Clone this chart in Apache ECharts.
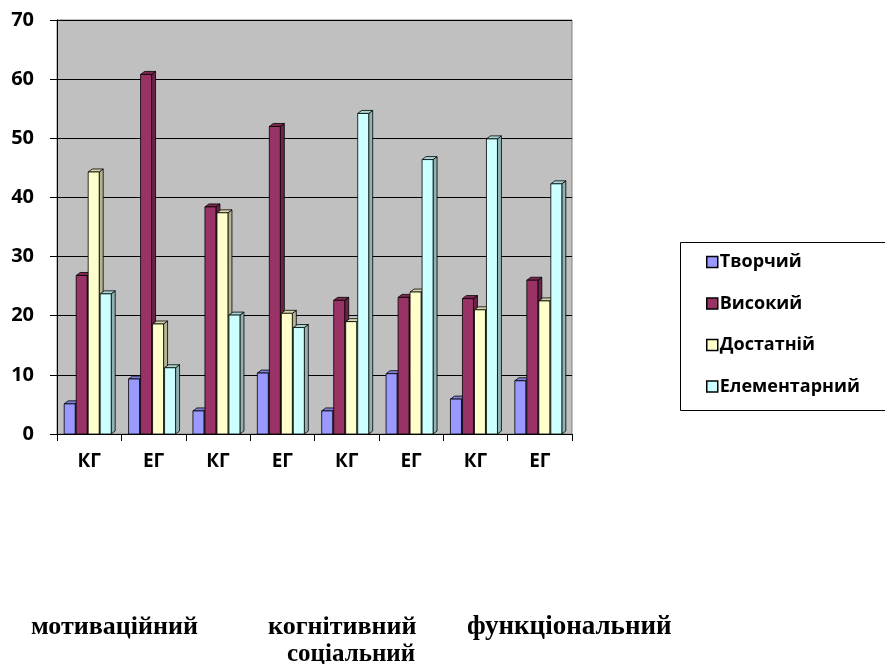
<!DOCTYPE html>
<html><head><meta charset="utf-8">
<script src="https://cdn.jsdelivr.net/npm/echarts@6/dist/echarts.min.js"></script>
<style>html,body{margin:0;padding:0;background:#fff}#c{width:885px;height:664px}</style>
</head><body><div id="c"></div>
<script>
const categories = ['КГ','ЕГ','КГ','ЕГ','КГ','ЕГ','КГ','ЕГ'];
const seriesNames = ['Творчий','Високий','Достатній','Елементарний'];
const tvorchyi     = [5.1, 9.3, 3.9, 10.3, 3.9, 10.2, 5.9, 9.0];
const vysokyi      = [26.8, 60.8, 38.4, 52.0, 22.6, 23.1, 22.9, 26.0];
const dostatnii    = [44.3, 18.6, 37.4, 20.4, 19.0, 24.0, 21.0, 22.5];
const elementarnyi = [23.7, 11.2, 20.1, 18.0, 54.2, 46.4, 49.9, 42.3];
const yTicks = [0,10,20,30,40,50,60,70];
const bottomLabels = ['мотиваційний','когнітивний','функціональний','соціальний'];

const values = [tvorchyi, vysokyi, dostatnii, elementarnyi];
const colors = ['#9999ff','#993366','#ffffcc','#ccffff'];
const sides  = ['#6b6bb3','#6b2447','#b3b38f','#8fb3b3'];
const tops   = ['#8080d6','#80294f','#d6d6aa','#aad6d6'];

function makeRender(si){
  return function(params, api){
    const cat = api.value(0), v = api.value(1);
    const base = api.coord([cat, 0]);
    const tp = api.coord([cat, v]);
    const bw = 12;
    const x0 = base[0] - 2*bw + si*bw - 1;
    const x1 = x0 + bw - 1;
    const yb = base[1], yt = tp[1];
    const dx = 4, dy = -3;
    const ls = {stroke:'#000', lineWidth:0.8};
    return {type:'group', children:[
      {type:'polygon', shape:{points:[[x1,yt],[x1+dx,yt+dy],[x1+dx,yb+dy],[x1,yb]]}, style:Object.assign({fill:sides[si]}, ls)},
      {type:'polygon', shape:{points:[[x0,yt],[x0+dx,yt+dy],[x1+dx,yt+dy],[x1,yt]]}, style:Object.assign({fill:tops[si]}, ls)},
      {type:'rect', shape:{x:x0, y:yt, width:x1-x0, height:yb-yt}, style:Object.assign({fill:colors[si]}, ls)}
    ]};
  };
}

const chart = echarts.init(document.getElementById('c'));
const font = 'Open Sans';
const serif = 'bold 26px "Liberation Serif"';
chart.setOption({
  animation:false,
  backgroundColor:'#fff',
  grid:{left:57, right:313, top:20, bottom:230, show:true, backgroundColor:'#c0c0c0', borderColor:'#808080', borderWidth:1},
  xAxis:{type:'category', data:categories,
    axisLine:{lineStyle:{color:'#000', width:1}},
    axisTick:{show:true, length:7, lineStyle:{color:'#000'}},
    axisLabel:{color:'#000', fontWeight:'bold', fontSize:19, fontFamily:font, margin:18}},
  yAxis:{type:'value', min:yTicks[0], max:yTicks[yTicks.length-1], interval:10,
    axisLine:{show:true, lineStyle:{color:'#000'}},
    axisTick:{show:true, length:7, lineStyle:{color:'#000'}},
    splitLine:{lineStyle:{color:'#000', width:1.2}},
    axisLabel:{color:'#000', fontWeight:'bold', fontSize:20, fontFamily:font, margin:23}},
  legend:{orient:'vertical', left:701, top:248, itemGap:23.5, itemWidth:11, itemHeight:11, icon:'rect',
    itemStyle:{borderColor:'#000', borderWidth:1.5},
    textStyle:{color:'#000', fontWeight:'bold', fontSize:18, fontFamily:font, padding:[0,0,0,-3]},
    data:seriesNames},
  graphic:[
    {type:'rect', left:678, top:240, shape:{width:206, height:168}, style:{fill:'none', stroke:'#000', lineWidth:1}, z:-1},
    {type:'text', x:31, y:627, style:{text:bottomLabels[0], font:serif, fill:'#000', textVerticalAlign:'middle'}},
    {type:'text', x:268, y:627, style:{text:bottomLabels[1], font:serif, fill:'#000', textVerticalAlign:'middle'}},
    {type:'text', x:467, y:627, style:{text:bottomLabels[2], font:'bold 27px "Liberation Serif"', fill:'#000', textVerticalAlign:'middle'}},
    {type:'text', x:287, y:655, style:{text:bottomLabels[3], font:'bold 25px "Liberation Serif"', fill:'#000', textVerticalAlign:'middle'}}
  ],
  series: seriesNames.map((n, si) => ({
    name:n, type:'custom', renderItem:makeRender(si),
    itemStyle:{color:colors[si]},
    encode:{x:0, y:1},
    data: values[si].map((v,i)=>[i,v])
  }))
});
</script></body></html>
